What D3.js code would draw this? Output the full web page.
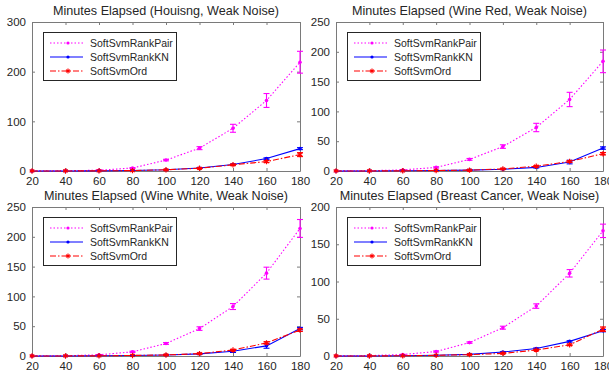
<!DOCTYPE html>
<html><head><meta charset="utf-8">
<script src="https://cdn.jsdelivr.net/npm/d3@7"></script>
<style>
html,body{margin:0;padding:0;background:#fff;}
svg{display:block;}
text{font-family:"Liberation Sans",Arial,sans-serif;fill:#262626;}
</style></head><body>
<svg id="chart" width="609" height="377"></svg>
<script>
const xValues = [20, 40, 60, 80, 100, 120, 140, 160, 180];
const seriesNames = ["SoftSvmRankPair", "SoftSvmRankKN", "SoftSvmOrd"];
const titles = [
  "Minutes Elapsed (Houisng, Weak Noise)",
  "Minutes Elapsed (Wine Red, Weak Noise)",
  "Minutes Elapsed (Wine White, Weak Noise)",
  "Minutes Elapsed (Breast Cancer, Weak Noise)"
];
const yMax = [300, 250, 250, 200];
const yTicks = [[0,100,200,300],[0,50,100,150,200,250],[0,50,100,150,200,250],[0,50,100,150,200]];
const xTicks = [20, 40, 60, 80, 100, 120, 140, 160, 180];

// Housing
const housingPair = [0.1, 0.4, 1.6, 6, 22, 46, 86, 142, 219];
const housingPairErr = [0, 0, 0.3, 1, 1.5, 3, 8, 14, 22];
const housingKN = [0.02, 0.1, 0.3, 0.9, 2.5, 6, 13, 25, 45];
const housingKNErr = [0, 0, 0, 0, 0.3, 0.6, 1, 1.5, 2];
const housingOrd = [0.02, 0.1, 0.3, 0.9, 2.5, 5.5, 12.5, 19, 33];
const housingOrdErr = [0, 0, 0, 0, 0.3, 0.6, 1, 2, 4];
// Wine Red
const redPair = [0.1, 0.5, 1.8, 6, 19.5, 41, 73, 120, 184];
const redPairErr = [0, 0, 0.3, 1, 1.5, 3, 7, 12, 19];
const redKN = [0.02, 0.1, 0.3, 0.8, 1.5, 3, 6, 15, 38.5];
const redKNErr = [0, 0, 0, 0, 0.2, 0.4, 1, 3, 2];
const redOrd = [0.02, 0.1, 0.3, 0.8, 1.5, 3.5, 8, 16, 29];
const redOrdErr = [0, 0, 0, 0, 0.2, 0.4, 1, 1.5, 2];
// Wine White
const whitePair = [0.1, 0.5, 2, 7, 21, 46, 83, 139, 214];
const whitePairErr = [0, 0, 0.3, 1, 1.5, 3, 5, 10, 15];
const whiteKN = [0.02, 0.1, 0.3, 0.9, 1.7, 3.5, 8, 17, 46];
const whiteKNErr = [0, 0, 0, 0, 0.2, 0.5, 2, 4, 2];
const whiteOrd = [0.02, 0.1, 0.3, 0.9, 1.7, 4, 10, 22, 43.5];
const whiteOrdErr = [0, 0, 0, 0, 0.2, 0.5, 1, 2, 2];
// Breast Cancer
const breastPair = [0.1, 0.5, 2, 6, 18, 38, 67, 111, 168];
const breastPairErr = [0, 0, 0.3, 0.8, 1, 2, 3, 5, 9];
const breastKN = [0.02, 0.1, 0.3, 1, 2.2, 5.4, 10, 19.6, 34];
const breastKNErr = [0, 0, 0, 0, 0.2, 0.4, 0.8, 1, 1.5];
const breastOrd = [0.02, 0.1, 0.3, 0.9, 1.8, 3.5, 8, 15, 36];
const breastOrdErr = [0, 0, 0, 0, 0.2, 0.4, 0.8, 1, 3];

const panelSeries = [
  [[housingPair, housingPairErr], [housingKN, housingKNErr], [housingOrd, housingOrdErr]],
  [[redPair, redPairErr], [redKN, redKNErr], [redOrd, redOrdErr]],
  [[whitePair, whitePairErr], [whiteKN, whiteKNErr], [whiteOrd, whiteOrdErr]],
  [[breastPair, breastPairErr], [breastKN, breastKNErr], [breastOrd, breastOrdErr]]
];

const colors = ["#ff00ff", "#0000ff", "#ff0000"];
const dashes = ["1.5,2", null, "6,2,1.5,2"];
const boxes = [
  {l: 32, t: 22, r: 300, b: 171},
  {l: 336, t: 22, r: 603, b: 171},
  {l: 32, t: 207, r: 300, b: 356},
  {l: 336, t: 207, r: 603, b: 356}
];
const axisColor = "#7a7a7a";
const svg = d3.select("#chart");

boxes.forEach((bx, pi) => {
  const x = d3.scaleLinear().domain([20, 180]).range([bx.l, bx.r]);
  const y = d3.scaleLinear().domain([0, yMax[pi]]).range([bx.b, bx.t]);
  const g = svg.append("g");

  // title
  g.append("text").attr("x", (bx.l + bx.r) / 2).attr("y", bx.t - 7)
    .attr("text-anchor", "middle").style("font-size", "12.6px").text(titles[pi]);

  const ax = [
    [d3.axisBottom(x).tickValues(xTicks).tickSizeInner(-3).tickSizeOuter(0).tickPadding(6), bx.b],
    [d3.axisTop(x).tickValues(xTicks).tickSizeInner(-3).tickSizeOuter(0).tickFormat(""), bx.t],
  ];
  ax.forEach(([a, ty]) => {
    const ag = g.append("g").attr("transform", `translate(0,${ty})`).call(a);
    ag.select(".domain").attr("stroke", axisColor);
    ag.selectAll(".tick line").attr("stroke", axisColor);
    ag.selectAll(".tick text").style("font-size", "11.5px").style("font-family", '"Liberation Sans",Arial,sans-serif').attr("fill", "#262626");
  });
  const ay = [
    [d3.axisLeft(y).tickValues(yTicks[pi]).tickSizeInner(-3).tickSizeOuter(0).tickPadding(6), bx.l],
    [d3.axisRight(y).tickValues(yTicks[pi]).tickSizeInner(-3).tickSizeOuter(0).tickFormat(""), bx.r]
  ];
  ay.forEach(([a, tx]) => {
    const ag = g.append("g").attr("transform", `translate(${tx},0)`).call(a);
    ag.select(".domain").attr("stroke", axisColor);
    ag.selectAll(".tick line").attr("stroke", axisColor);
    ag.selectAll(".tick text").style("font-size", "11.5px").style("font-family", '"Liberation Sans",Arial,sans-serif').attr("fill", "#262626");
  });

  panelSeries[pi].forEach(([vals, errs], si) => {
    const pts = xValues.map((xv, i) => ({x: xv, y: vals[i], e: errs[i]}));
    const line = d3.line().x(d => x(d.x)).y(d => y(d.y));
    g.append("path").datum(pts).attr("d", line).attr("fill", "none")
      .attr("stroke", colors[si]).attr("stroke-width", 1.1)
      .attr("stroke-dasharray", dashes[si]);
    pts.filter(d => d.e > 0).forEach(d => {
      const cx = x(d.x), y1 = y(d.y + d.e), y2 = y(d.y - d.e);
      const eg = g.append("g").attr("stroke", colors[si]).attr("stroke-width", 1.1);
      eg.append("line").attr("x1", cx).attr("x2", cx).attr("y1", y1).attr("y2", y2);
      eg.append("line").attr("x1", cx - 3).attr("x2", cx + 3).attr("y1", y1).attr("y2", y1);
      eg.append("line").attr("x1", cx - 3).attr("x2", cx + 3).attr("y1", y2).attr("y2", y2);
    });
    if (si < 2) {
      g.selectAll(null).data(pts).enter().append("circle")
        .attr("cx", d => x(d.x)).attr("cy", d => y(d.y)).attr("r", 1.8).attr("fill", colors[si]);
    } else {
      g.selectAll(null).data(pts).enter().append("path")
        .attr("transform", d => `translate(${x(d.x)},${y(d.y)})`)
        .attr("d", d3.symbol(d3.symbolAsterisk, 20)).attr("fill", "none")
        .attr("stroke", colors[si]).attr("stroke-width", 1.2);
    }
  });

  const lg = g.append("g");
  lg.append("rect").attr("x", bx.l + 11.5).attr("y", bx.t + 10.5).attr("width", 133).attr("height", 48)
    .attr("fill", "#fff").attr("stroke", "#262626").attr("stroke-width", 1);
  seriesNames.forEach((name, si) => {
    const ly = bx.t + 21 + si * 14;
    lg.append("line").attr("x1", bx.l + 18).attr("x2", bx.l + 51).attr("y1", ly).attr("y2", ly)
      .attr("stroke", colors[si]).attr("stroke-width", 1.1).attr("stroke-dasharray", dashes[si]);
    if (si < 2) {
      lg.append("circle").attr("cx", bx.l + 36).attr("cy", ly).attr("r", 1.6).attr("fill", colors[si]);
    } else {
      lg.append("path").attr("transform", `translate(${bx.l + 36},${ly})`)
        .attr("d", d3.symbol(d3.symbolAsterisk, 16)).attr("fill", "none")
        .attr("stroke", colors[si]).attr("stroke-width", 1.1);
    }
    lg.append("text").attr("x", bx.l + 58).attr("y", ly + 4).style("font-size", "10.5px").text(name);
  });
});
</script>
</body></html>
